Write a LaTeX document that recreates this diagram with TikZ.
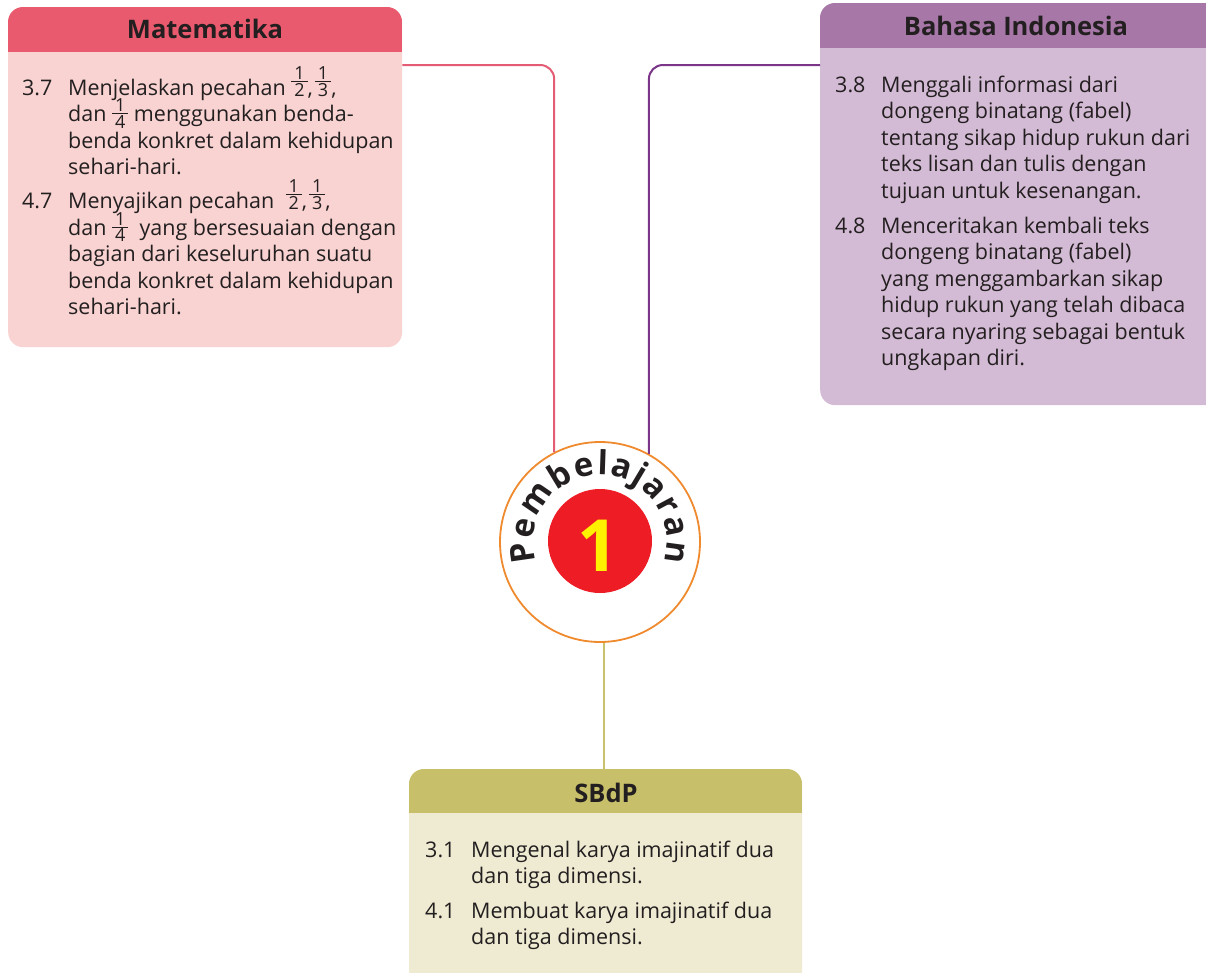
\documentclass[tikz,border=0pt]{standalone}
\usepackage{fontspec}
\setmainfont{Open Sans}
\usetikzlibrary{decorations.text}
\definecolor{mathead}{HTML}{E95A6E}
\definecolor{matbody}{HTML}{F8D3D1}
\definecolor{bihead}{HTML}{A677A7}
\definecolor{bibody}{HTML}{D4BBD5}
\definecolor{sbhead}{HTML}{C8BF6A}
\definecolor{sbbody}{HTML}{EFEBD2}
\definecolor{matline}{HTML}{E45C74}
\definecolor{biline}{HTML}{7B3589}
\definecolor{sbline}{HTML}{C9C16C}
\definecolor{ring}{HTML}{F08A2F}
\definecolor{redc}{HTML}{EE1C25}
\definecolor{yel}{HTML}{FFF200}
\definecolor{ink}{HTML}{231F20}
\newcommand\fr[3][-1pt]{\raisebox{#1}{\fontsize{18}{18}\selectfont\vbox{\halign{\hfil\,##\,\hfil\cr#2\cr\noalign{\kern1.5pt\hrule height0.8pt\kern1.5pt}#3\cr}}}}
\newcommand\itm[2]{\hangindent=46pt\hangafter=1\makebox[46pt][l]{#1}#2\par}
\newcommand\boxbody[1]{\vtop{\hsize=600pt\parindent=0pt\parskip=0pt\fontsize{21.5}{26.5}\selectfont\lineskiplimit=-40pt\lineskip=0pt#1}}
\tikzset{
  hdr/.style={font=\bfseries\fontsize{25.5}{25.5}\selectfont, text=ink, anchor=base, inner sep=0pt},
  panel/.style={rectangle, rounded corners=15pt, anchor=north west, inner sep=0pt},
  txt/.style={anchor=base west, inner sep=0pt, text=ink},
  conn/.style={line width=2pt, rounded corners=14pt}
}
\begin{document}
\begin{tikzpicture}[x=1pt,y=-1pt]
\useasboundingbox (0,0) rectangle (1206,972);
\clip (0,0) rectangle (1206,972);
% Matematika panel
\node[panel, fill=matbody, minimum width=394pt, minimum height=340pt] (matbox) at (8,7) {};
\begin{scope}
\clip[rounded corners=15pt] (8,7) rectangle (402,347);
\fill[mathead] (8,7) rectangle (402,52);
\end{scope}
\node[hdr] (mathd) at (205,38) {Matematika};
\node[txt] (mattx) at (22,95) {\boxbody{%
\itm{3.7}{Menjelaskan pecahan \fr12,\kern2pt\fr13,\\ dan \fr[-6.8pt]14 menggunakan benda-\\ benda konkret dalam kehidupan\\ sehari-hari.}
\vspace{7.5pt}
\itm{4.7}{Menyajikan pecahan \ \fr12,\kern2pt\fr13,\\ dan \fr[-6.8pt]14 \ yang bersesuaian dengan\\ bagian dari keseluruhan suatu\\ benda konkret dalam kehidupan\\ sehari-hari.}}};
% Bahasa Indonesia panel
\node[panel, fill=bibody, minimum width=400pt, minimum height=402pt] (bibox) at (820,3) {};
\begin{scope}
\clip[rounded corners=15pt] (820,3) rectangle (1220,405);
\fill[bihead] (820,3) rectangle (1220,48);
\end{scope}
\node[hdr] (bihd) at (1016,35) {Bahasa Indonesia};
\node[txt] (bitx) at (835,92) {\boxbody{%
\itm{3.8}{Menggali informasi dari\\ dongeng binatang (fabel)\\ tentang sikap hidup rukun dari\\ teks lisan dan tulis dengan\\ tujuan untuk kesenangan.}
\vspace{8.5pt}
\itm{4.8}{Menceritakan kembali teks\\ dongeng binatang (fabel)\\ yang menggambarkan sikap\\ hidup rukun yang telah dibaca\\ secara nyaring sebagai bentuk\\ ungkapan diri.}}};
% SBdP panel
\node[panel, fill=sbbody, minimum width=393pt, minimum height=220pt] (sbbox) at (409,769) {};
\begin{scope}
\clip[rounded corners=15pt] (409,769) rectangle (802,989);
\fill[sbhead] (409,769) rectangle (802,813);
\end{scope}
\node[hdr] (sbhd) at (606,802) {SBdP};
\node[txt] (sbtx) at (425,857) {\boxbody{%
\itm{3.1}{Mengenal karya imajinatif dua\\ dan tiga dimensi.}
\vspace{8pt}
\itm{4.1}{Membuat karya imajinatif dua\\ dan tiga dimensi.}}};
% centre circle
\node[circle, draw=ring, line width=1.8pt, fill=white, minimum size=200pt, inner sep=0pt] (c) at (600,542) {};
\node[circle, fill=redc, minimum size=104pt, inner sep=0pt] (red) at (600,541) {};
\node[anchor=base, inner sep=0pt, text=yel, font=\bfseries\fontsize{72}{72}\selectfont] (one) at (598,571) {1};
\begin{scope}[shift={(600,542)}, yscale=-1]
\path[decorate, decoration={text along path, text={|\bfseries\fontsize{33}{33}\selectfont\color{ink}|Pembelajaran}, text align={fit to path}}] (197:67) arc[start angle=197, end angle=-17, radius=67];
\end{scope}
% connectors
\draw[conn, matline] ([yshift=-58pt]matbox.north east) -| (c.117.4);
\draw[conn, biline] ([yshift=-62pt]bibox.north west) -| (c.61.3);
\draw[line width=2pt, sbline] (c.-88) -- (c.-88 |- sbbox.north);
\end{tikzpicture}
\end{document}
